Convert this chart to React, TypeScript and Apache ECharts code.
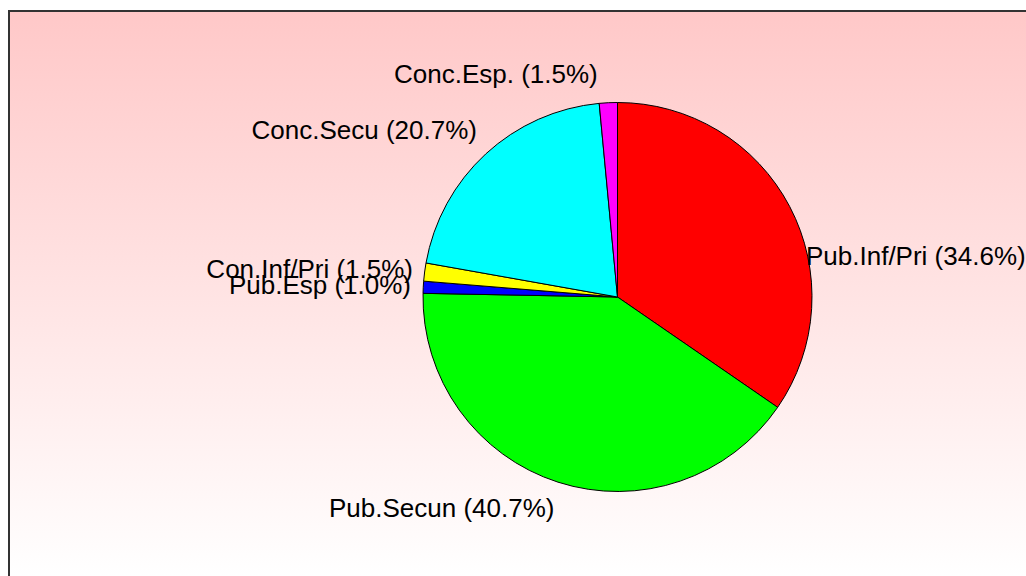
import React, { useEffect, useRef } from "react";
import * as echarts from "echarts";

const categories = ["Pub.Inf/Pri", "Pub.Secun", "Pub.Esp", "Con.Inf/Pri", "Conc.Secu", "Conc.Esp."];
const shares = [34.6, 40.7, 1.0, 1.5, 20.7, 1.5];
const colors = ["#ff0000", "#00ff00", "#0000ff", "#ffff00", "#00ffff", "#ff00ff"];
// label anchor positions (layout only)
const labelPos: { x: number; y: number; align: "left" | "right" }[] = [
  { x: 806, y: 256, align: "left" },
  { x: 329, y: 508, align: "left" },
  { x: 411, y: 285, align: "right" },
  { x: 413, y: 269, align: "right" },
  { x: 477, y: 130, align: "right" },
  { x: 394, y: 74, align: "left" },
];

export default function App() {
  const ref = useRef<HTMLDivElement>(null);
  useEffect(() => {
    if (!ref.current) return;
    document.documentElement.style.overflow = "hidden";
    document.body.style.margin = "0";
    const chart = echarts.init(ref.current, undefined, { renderer: "svg" });
    chart.setOption({
      animation: false,
      backgroundColor: "#ffffff",
      graphic: [
        {
          type: "rect",
          z: -10,
          silent: true,
          shape: { x: 9, y: 11, width: 1017, height: 565 },
          style: {
            fill: new echarts.graphic.LinearGradient(0, 0, 0, 1, [
              { offset: 0, color: "#ffc8c8" },
              { offset: 1, color: "#ffffff" },
            ]),
          },
        },
        {
          type: "line",
          z: -9,
          silent: true,
          shape: { x1: 9, y1: 11, x2: 1026, y2: 11 },
          style: { stroke: "#333333", lineWidth: 2 },
        },
        {
          type: "line",
          z: -9,
          silent: true,
          shape: { x1: 9, y1: 10, x2: 9, y2: 576 },
          style: { stroke: "#333333", lineWidth: 2 },
        },
      ],
      series: [
        {
          type: "pie",
          center: [617.5, 297],
          radius: 194.5,
          startAngle: 90,
          clockwise: true,
          avoidLabelOverlap: false,
          itemStyle: { borderColor: "#000000", borderWidth: 1 },
          label: {
            show: true,
            position: "outside",
            color: "#000000",
            fontFamily: "'Liberation Sans', Arial, sans-serif",
            fontSize: 26,
            formatter: (p: any) => `${p.name} (${Number(p.value).toFixed(1)}%)`,
          },
          labelLine: { show: false },
          labelLayout: (params: any) => {
            const lp = labelPos[params.dataIndex];
            return { x: lp.x, y: lp.y, align: lp.align, verticalAlign: "middle" };
          },
          emphasis: { disabled: true },
          data: categories.map((c, i) => ({
            name: c,
            value: shares[i],
            itemStyle: { color: colors[i] },
          })),
        },
      ],
    });
    return () => chart.dispose();
  }, []);
  return (
    <div
      ref={ref}
      style={{ position: "absolute", left: 0, top: 0, width: 1026, height: 576, overflow: "hidden" }}
    />
  );
}
